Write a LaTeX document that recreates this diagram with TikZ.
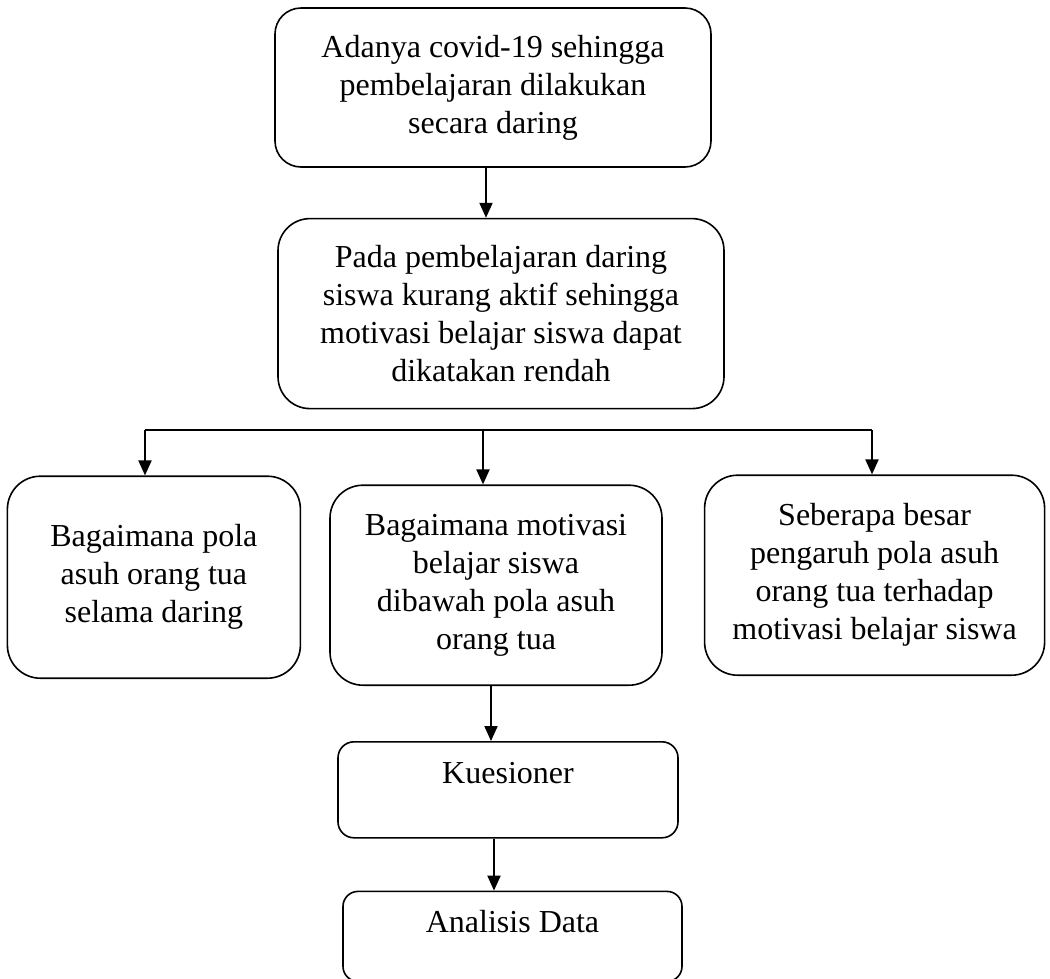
\documentclass[tikz,border=0pt]{standalone}
\usepackage{fontspec}
\setmainfont{Liberation Serif}
\usetikzlibrary{positioning, arrows.meta}
\tikzstyle{arrow} = [line width=2pt,-{Triangle[length=15pt,width=13pt]}]

\begin{document}
\begin{tikzpicture}[x=1pt,y=-1pt,
	box/.style={rectangle, draw=black, line width=1.6pt, align=center, inner sep=0pt, font=\fontsize{32}{38}\selectfont},
	big box/.style={box, minimum height=200pt, rounded corners=33pt}]
	\useasboundingbox (0,0) rectangle (1050,978);
	
	\node[box, minimum width=436pt, minimum height=159pt, rounded corners=26pt] (covid) at (493,87.5) {Adanya covid-19 sehingga\\pembelajaran dilakukan\\secara daring};
	\node[box, minimum width=446pt, minimum height=190pt, rounded corners=32pt] (rendah) [below=50pt of covid, xshift=8pt] {Pada pembelajaran daring\\siswa kurang aktif sehingga\\motivasi belajar siswa dapat\\dikatakan rendah};
	
	\node[big box, minimum width=332pt] (motivasi) [below=75pt of rendah, xshift=-5pt] {Bagaimana motivasi\\belajar siswa\\dibawah pola asuh\\orang tua};
	\node[big box, minimum width=293pt, minimum height=202pt] (pola) [left=28pt of motivasi, yshift=8pt] {Bagaimana pola\\asuh orang tua\\selama daring};
	\node[big box, minimum width=340pt] (pengaruh) [right=41pt of motivasi, yshift=10pt] {Seberapa besar\\pengaruh pola asuh\\orang tua terhadap\\motivasi belajar siswa};
	
	\node[box, minimum width=340pt, minimum height=96pt, rounded corners=16pt, text depth=33pt] (kuesioner) [below=55pt of motivasi, xshift=12pt] {Kuesioner};
	\node[box, minimum width=339pt, minimum height=90pt, rounded corners=15pt, text depth=30pt] (analisis) [below=52pt of kuesioner, xshift=4.5pt] {Analisis Data};
	
	% branching bar
	\coordinate (barL) at (145,430);
	\coordinate (barM) at (483,430);
	\coordinate (barR) at (872,430);
	\coordinate (c1) at ([xshift=-7pt]covid.south);
	\coordinate (c2) at ([xshift=-5pt]motivasi.south);
	\coordinate (c3) at ([xshift=-14pt]kuesioner.south);
	
	\draw[line width=2.4pt] (barL) -- (barR);
	\draw[arrow] (c1) -- (c1 |- rendah.north);
	\draw[arrow] (barL) -- (barL |- pola.north);
	\draw[arrow] (barM) -- (barM |- motivasi.north);
	\draw[arrow] (barR) -- (barR |- pengaruh.north);
	\draw[arrow] (c2) -- (c2 |- kuesioner.north);
	\draw[arrow] (c3) -- (c3 |- analisis.north);
\end{tikzpicture}
\end{document}
